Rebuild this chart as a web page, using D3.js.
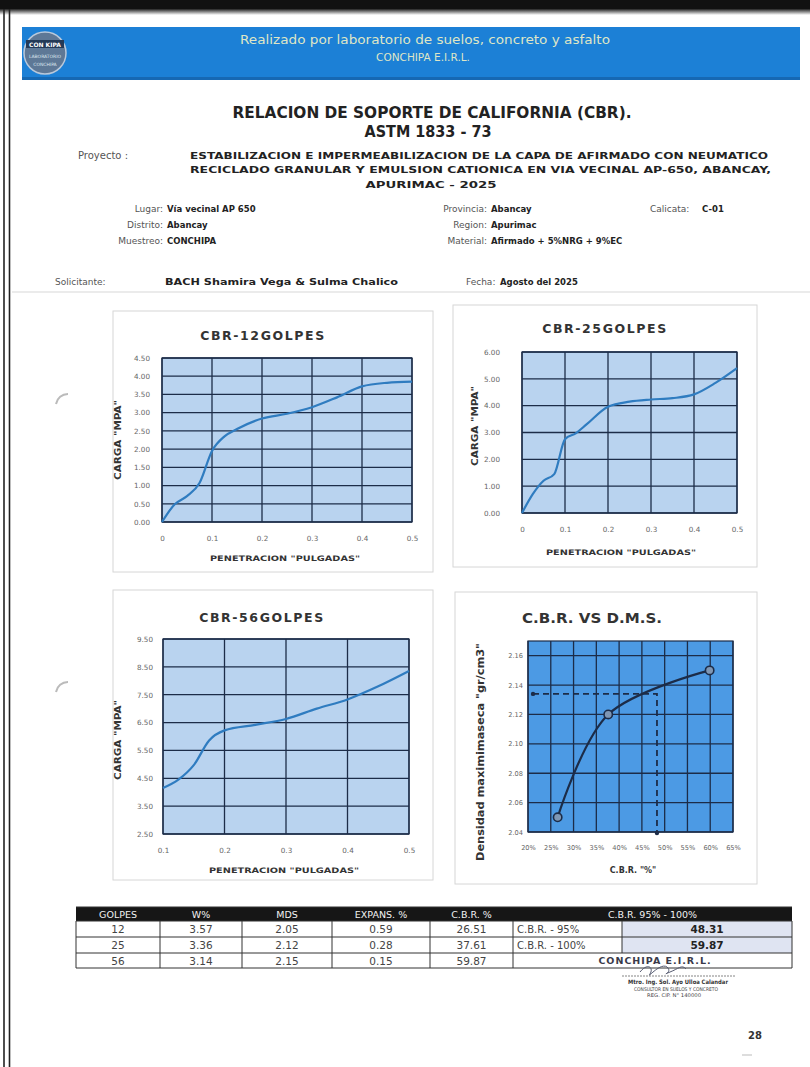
<!DOCTYPE html>
<html><head><meta charset="utf-8">
<script src="https://cdn.jsdelivr.net/npm/d3@7"></script>
<style>
html,body{margin:0;padding:0;background:#fff;}
svg{display:block;}
text{font-family:"DejaVu Sans",sans-serif;}
</style></head><body>
<svg id="page" width="810" height="1067"></svg>
<script>
// ---------------- DATA ----------------
const penetration = [0, 0.025, 0.05, 0.075, 0.1, 0.125, 0.15, 0.2, 0.25, 0.3, 0.35, 0.4, 0.45, 0.5];
const carga12 = [0, 0.48, 0.71, 1.07, 1.95, 2.35, 2.55, 2.84, 2.97, 3.15, 3.42, 3.72, 3.82, 3.85];
const carga25 = [0, 0.70, 1.20, 1.45, 2.75, 2.97, 3.30, 3.96, 4.15, 4.23, 4.28, 4.42, 4.85, 5.40];
const penetration56 = [0.1, 0.125, 0.15, 0.175, 0.2, 0.25, 0.3, 0.35, 0.4, 0.45, 0.5];
const carga56 = [4.15, 4.45, 4.97, 5.86, 6.22, 6.42, 6.63, 7.00, 7.33, 7.80, 8.35];

const ticksX = [0, 0.1, 0.2, 0.3, 0.4, 0.5];
const ticksX56 = [0.1, 0.2, 0.3, 0.4, 0.5];
const ticksY12 = [0, 0.5, 1, 1.5, 2, 2.5, 3, 3.5, 4, 4.5];
const ticksY25 = [0, 1, 2, 3, 4, 5, 6];
const ticksY56 = [2.5, 3.5, 4.5, 5.5, 6.5, 7.5, 8.5, 9.5];

const cbrPct = [26.51, 37.61, 59.87];
const mdsVals = [2.05, 2.12, 2.15];
const cbrAt95 = 48.31;
const mdsLevel95 = 2.134;
const ticksCbr = [0.20, 0.25, 0.30, 0.35, 0.40, 0.45, 0.50, 0.55, 0.60, 0.65];
const ticksMds = [2.04, 2.06, 2.08, 2.10, 2.12, 2.14, 2.16];

const golpes = [12, 25, 56];
const humedad = [3.57, 3.36, 3.14];
const mdsTable = [2.05, 2.12, 2.15];
const expansion = [0.59, 0.28, 0.15];
const cbrTable = [26.51, 37.61, 59.87];
const tableHeaders = ["GOLPES", "W%", "MDS", "EXPANS. %", "C.B.R. %"];
const cbrSummaryLabels = ["C.B.R. - 95%", "C.B.R. - 100%"];
const cbrSummaryValues = [48.31, 59.87];

// ---------------- PAGE ----------------
const svg = d3.select("#page");
const NAVY = "#1c2c48";

// scan frame
const topGrad = svg.append("defs").append("linearGradient").attr("id","tg").attr("x1",0).attr("x2",0).attr("y1",0).attr("y2",1);
topGrad.append("stop").attr("offset","0").attr("stop-color","#111");
topGrad.append("stop").attr("offset","0.6").attr("stop-color","#222");
topGrad.append("stop").attr("offset","1").attr("stop-color","#fff");
svg.append("rect").attr("x",0).attr("y",0).attr("width",810).attr("height",15).attr("fill","url(#tg)");
svg.append("rect").attr("x",0).attr("y",0).attr("width",810).attr("height",9).attr("fill","#111");
[4, 9.5].forEach(xx => svg.append("line").attr("x1",xx).attr("x2",xx).attr("y1",9).attr("y2",1067).attr("stroke","#222").attr("stroke-width",1.6));

// header band
svg.append("rect").attr("x",22).attr("y",27).attr("width",778).attr("height",53).attr("fill","#1c80d6");
svg.append("rect").attr("x",22).attr("y",77).attr("width",778).attr("height",3).attr("fill","#1668b3");
svg.append("circle").attr("cx",45).attr("cy",53).attr("r",21).attr("fill","#5e7896").attr("stroke","#b9c8da").attr("stroke-width",1.5);
svg.append("rect").attr("x",26).attr("y",40).attr("width",38).attr("height",8).attr("fill","#243a57");
svg.append("text").attr("x",45).attr("y",46.5).attr("text-anchor","middle").attr("font-size",6).attr("font-weight","bold").attr("fill","#fff").text("CON KIPA");
svg.append("text").attr("x",45).attr("y",58).attr("text-anchor","middle").attr("font-size",4.5).attr("fill","#dde6ef").text("LABORATORIO");
svg.append("text").attr("x",45).attr("y",66).attr("text-anchor","middle").attr("font-size",4.5).attr("fill","#dde6ef").text("CONCHIPA");
svg.append("text").attr("x",425).attr("y",44).attr("text-anchor","middle").attr("font-size",12.5).attr("font-family","Open Sans, sans-serif").attr("fill","#dfe6c6").attr("textLength",370).attr("lengthAdjust","spacingAndGlyphs").text("Realizado por laboratorio de suelos, concreto y asfalto");
svg.append("text").attr("x",423).attr("y",61).attr("text-anchor","middle").attr("font-size",10.5).attr("font-family","Open Sans, sans-serif").attr("fill","#dfe6c6").text("CONCHIPA E.I.R.L.");

// titles
svg.append("text").attr("x",432).attr("y",118).attr("text-anchor","middle").attr("font-size",15).attr("font-weight","bold").attr("fill","#222").attr("textLength",399).attr("lengthAdjust","spacingAndGlyphs").text("RELACION DE SOPORTE DE CALIFORNIA (CBR).");
svg.append("text").attr("x",428).attr("y",137).attr("text-anchor","middle").attr("font-size",15).attr("font-weight","bold").attr("fill","#222").attr("textLength",127).attr("lengthAdjust","spacingAndGlyphs").text("ASTM 1833 - 73");
svg.append("text").attr("x",78).attr("y",159).attr("font-size",10).attr("fill","#555").text("Proyecto  :");
const projLines = [
  {t:"ESTABILIZACION E IMPERMEABILIZACION DE LA CAPA DE AFIRMADO CON NEUMATICO", x:190, y:159, w:578, a:"start"},
  {t:"RECICLADO GRANULAR Y EMULSION CATIONICA EN VIA VECINAL AP-650, ABANCAY,", x:190, y:173, w:581, a:"start"},
  {t:"APURIMAC - 2025", x:431, y:188, w:131, a:"middle"}
];
projLines.forEach(p => svg.append("text").attr("x",p.x).attr("y",p.y).attr("text-anchor",p.a).attr("font-size",9.5).attr("font-weight","bold").attr("fill","#222").attr("textLength",p.w).attr("lengthAdjust","spacingAndGlyphs").text(p.t));

// info block
const info = [
  {l:"Lugar:", v:"Vía vecinal AP 650", lx:163, y:212},
  {l:"Distrito:", v:"Abancay", lx:163, y:228},
  {l:"Muestreo:", v:"CONCHIPA", lx:163, y:244},
  {l:"Provincia:", v:"Abancay", lx:487, y:212},
  {l:"Region:", v:"Apurimac", lx:487, y:228},
  {l:"Material:", v:"Afirmado + 5%NRG + 9%EC", lx:487, y:244}
];
info.forEach(d => {
  svg.append("text").attr("x",d.lx).attr("y",d.y).attr("text-anchor","end").attr("font-size",9).attr("fill","#555").text(d.l);
  svg.append("text").attr("x",d.lx+4).attr("y",d.y).attr("font-size",8.5).attr("font-weight","bold").attr("fill","#222").text(d.v);
});
svg.append("text").attr("x",650).attr("y",212).attr("font-size",9).attr("fill","#555").text("Calicata:");
svg.append("text").attr("x",702).attr("y",212).attr("font-size",8.5).attr("font-weight","bold").attr("fill","#222").text("C-01");
svg.append("text").attr("x",55).attr("y",285).attr("font-size",9).attr("fill","#555").text("Solicitante:");
svg.append("text").attr("x",165).attr("y",285).attr("font-size",8.5).attr("font-weight","bold").attr("fill","#222").attr("textLength",233).attr("lengthAdjust","spacingAndGlyphs").text("BACH Shamira  Vega & Sulma Chalico");
svg.append("text").attr("x",466).attr("y",285).attr("font-size",9).attr("fill","#555").text("Fecha:");
svg.append("text").attr("x",500).attr("y",285).attr("font-size",8.5).attr("font-weight","bold").attr("fill","#222").text("Agosto del 2025");
svg.append("line").attr("x1",12).attr("x2",810).attr("y1",292).attr("y2",292).attr("stroke","#e4e4e4").attr("stroke-width",1.5);

// scan artifacts (hole marks)
[[62,402],[62,690]].forEach(([cx,cy]) => svg.append("path").attr("d",`M${cx+6},${cy-8} A12,12 0 0 0 ${cx-6},${cy+2}`).attr("fill","none").attr("stroke","#bbb").attr("stroke-width",2));

// ---------------- LINE CHARTS ----------------
function lineChart(cfg) {
  const g = svg.append("g");
  g.append("rect").attr("x",cfg.panel[0]).attr("y",cfg.panel[1]).attr("width",cfg.panel[2]).attr("height",cfg.panel[3]).attr("fill","#fff").attr("stroke","#d6d6d6");
  const x = d3.scaleLinear().domain(cfg.xDomain).range([cfg.px0, cfg.px1]);
  const y = d3.scaleLinear().domain(cfg.yDomain).range([cfg.py1, cfg.py0]);
  g.append("rect").attr("x",cfg.px0).attr("y",cfg.py0).attr("width",cfg.px1-cfg.px0).attr("height",cfg.py1-cfg.py0).attr("fill",cfg.bg);
  g.selectAll(".hg").data(cfg.yTicks).join("line").attr("x1",cfg.px0).attr("x2",cfg.px1).attr("y1",d=>y(d)).attr("y2",d=>y(d)).attr("stroke",NAVY).attr("stroke-width",1.3);
  g.selectAll(".vg").data(cfg.xGrid).join("line").attr("y1",cfg.py0).attr("y2",cfg.py1).attr("x1",d=>x(d)).attr("x2",d=>x(d)).attr("stroke",NAVY).attr("stroke-width",1.3);
  g.append("rect").attr("x",cfg.px0).attr("y",cfg.py0).attr("width",cfg.px1-cfg.px0).attr("height",cfg.py1-cfg.py0).attr("fill","none").attr("stroke",NAVY).attr("stroke-width",1.2);
  const ya = g.append("g").attr("transform",`translate(${cfg.px0},0)`).call(d3.axisLeft(y).tickValues(cfg.yTicks).tickFormat(cfg.yFmt).tickSize(0).tickPadding(cfg.yPad));
  ya.select(".domain").remove();
  ya.selectAll("text").attr("font-size",7.2).attr("fill","#666").attr("font-family","DejaVu Sans, sans-serif");
  const xa = g.append("g").attr("transform",`translate(0,${cfg.py1})`).call(d3.axisBottom(x).tickValues(cfg.xTicks).tickFormat(cfg.xFmt).tickSize(0).tickPadding(cfg.xPad));
  xa.select(".domain").remove();
  xa.selectAll("text").attr("font-size",7.2).attr("fill","#666").attr("font-family","DejaVu Sans, sans-serif");
  return {g, x, y};
}

function curveChart(cfg, xs, ys) {
  const c = lineChart(cfg);
  c.g.append("path").datum(d3.zip(xs, ys)).attr("fill","none").attr("stroke","#2f7cc0").attr("stroke-width",2.2)
    .attr("d", d3.line().x(d=>c.x(d[0])).y(d=>c.y(d[1])).curve(d3.curveMonotoneX));
  c.g.append("text").attr("x",cfg.tx).attr("y",cfg.ty).attr("text-anchor","middle").attr("font-size",12.5).attr("font-weight","bold").attr("fill","#333").attr("letter-spacing",1.6).text(cfg.title);
  c.g.append("text").attr("x",cfg.xtx).attr("y",cfg.xty).attr("text-anchor","middle").attr("font-size",7.5).attr("font-weight","bold").attr("fill","#333").attr("textLength",150).attr("lengthAdjust","spacingAndGlyphs").text('PENETRACION "PULGADAS"');
  c.g.append("text").attr("transform",`translate(${cfg.ytx},${cfg.yty}) rotate(-90)`).attr("text-anchor","middle").attr("font-size",8.5).attr("font-weight","bold").attr("fill","#333").attr("textLength",80).attr("lengthAdjust","spacingAndGlyphs").text('CARGA "MPA"');
  return c;
}

const fmt2 = d3.format(".2f");
const fmtX = d => d === 0 ? "0" : String(d);

curveChart({panel:[113,311,320,261], xDomain:[0,0.5], yDomain:[0,4.5], px0:162, px1:412, py0:358, py1:522,
  bg:"#b9d3ef", yTicks:ticksY12, xTicks:ticksX, xGrid:ticksX, yFmt:fmt2, xFmt:fmtX, yPad:12, xPad:14,
  title:"CBR-12GOLPES", tx:263, ty:340, xtx:285, xty:561, ytx:121, yty:440}, penetration, carga12);

curveChart({panel:[453,305,304,262], xDomain:[0,0.5], yDomain:[0,6], px0:522, px1:737, py0:352, py1:513,
  bg:"#b9d3ef", yTicks:ticksY25, xTicks:ticksX, xGrid:ticksX, yFmt:fmt2, xFmt:fmtX, yPad:22, xPad:14,
  title:"CBR-25GOLPES", tx:605, ty:333, xtx:621, xty:555, ytx:478, yty:426}, penetration, carga25);

curveChart({panel:[113,590,320,290], xDomain:[0.1,0.5], yDomain:[2.5,9.5], px0:163, px1:409, py0:639, py1:834,
  bg:"#b9d3ef", yTicks:ticksY56, xTicks:ticksX56, xGrid:ticksX56, yFmt:fmt2, xFmt:fmtX, yPad:10, xPad:14,
  title:"CBR-56GOLPES", tx:262, ty:622, xtx:284, xty:873, ytx:121, yty:740}, penetration56, carga56);

// ---------------- CBR vs DMS ----------------
const c4 = lineChart({panel:[455,592,302,292], xDomain:[0.20,0.65], yDomain:[2.04,2.17], px0:528, px1:733, py0:641, py1:832,
  bg:"#4c9ae4", yTicks:ticksMds, xTicks:ticksCbr, xGrid:ticksCbr, yFmt:fmt2, xFmt:d3.format(".0%"), yPad:5, xPad:13});
c4.g.selectAll("g.tick text").attr("font-size",6.6);
const pts = d3.zip(cbrPct.map(v=>v/100), mdsVals);
c4.g.append("path").datum(pts).attr("fill","none").attr("stroke",NAVY).attr("stroke-width",2.2)
  .attr("d", d3.line().x(d=>c4.x(d[0])).y(d=>c4.y(d[1])).curve(d3.curveCatmullRom.alpha(0.5)));
const xr = c4.x(cbrAt95/100), yr = c4.y(mdsLevel95);
c4.g.append("path").attr("d",`M${c4.x(0.211)},${yr} H${xr} V${c4.y(2.04)}`).attr("fill","none").attr("stroke",NAVY).attr("stroke-width",1.8).attr("stroke-dasharray","6,4");
c4.g.append("circle").attr("cx",c4.x(0.211)).attr("cy",yr).attr("r",2.2).attr("fill",NAVY);
c4.g.append("circle").attr("cx",xr).attr("cy",c4.y(2.04)+1).attr("r",2.2).attr("fill",NAVY);
c4.g.selectAll(".pt").data(pts).join("circle").attr("cx",d=>c4.x(d[0])).attr("cy",d=>c4.y(d[1])).attr("r",4.2)
  .attr("fill","#7f97b4").attr("stroke",NAVY).attr("stroke-width",1.6);
c4.g.append("text").attr("x",592).attr("y",623).attr("text-anchor","middle").attr("font-size",14).attr("font-weight","bold").attr("fill","#333").attr("textLength",140).attr("lengthAdjust","spacingAndGlyphs").text("C.B.R.  VS D.M.S.");
c4.g.append("text").attr("x",633).attr("y",873).attr("text-anchor","middle").attr("font-size",8).attr("font-weight","bold").attr("fill","#333").text('C.B.R. "%"');
c4.g.append("text").attr("transform","translate(484,752) rotate(-90)").attr("text-anchor","middle").attr("font-size",10).attr("font-weight","bold").attr("fill","#333").attr("textLength",218).attr("lengthAdjust","spacingAndGlyphs").text('Densidad maximimaseca "gr/cm3"');

// ---------------- TABLE ----------------
const colX = [76, 160, 242, 332, 430, 513, 622, 792];
const rowY = [907, 921, 937, 953, 968];
const tf = "DejaVu Sans Condensed, DejaVu Sans, sans-serif";
const tg = svg.append("g");
tg.append("rect").attr("x",colX[0]).attr("y",rowY[0]).attr("width",colX[7]-colX[0]).attr("height",rowY[1]-rowY[0]).attr("fill","#161616");
const headerCenters = tableHeaders.map((h,i)=>({t:h, x:(colX[i]+colX[i+1])/2}));
headerCenters.push({t:"C.B.R. 95% - 100%", x:(colX[5]+colX[7])/2});
tg.selectAll(".hd").data(headerCenters).join("text").attr("x",d=>d.x).attr("y",rowY[0]+11).attr("text-anchor","middle").attr("font-size",9.5).attr("font-family",tf).attr("fill","#f2f2f2").text(d=>d.t);
// shaded value cells
[0,1].forEach(r => tg.append("rect").attr("x",colX[6]).attr("y",rowY[r+1]).attr("width",colX[7]-colX[6]).attr("height",rowY[r+2]-rowY[r+1]).attr("fill","#dfe4f2"));
// body values
const cols = [golpes.map(String), humedad.map(fmt2), mdsTable.map(fmt2), expansion.map(fmt2), cbrTable.map(fmt2)];
cols.forEach((col,ci) => {
  tg.selectAll(".c"+ci).data(col).join("text").attr("x",(colX[ci]+colX[ci+1])/2).attr("y",(d,ri)=>rowY[ri+1]+12)
    .attr("text-anchor","middle").attr("font-size",10.5).attr("font-family",tf).attr("fill","#444").text(d=>d);
});
tg.selectAll(".sl").data(cbrSummaryLabels).join("text").attr("x",colX[5]+4).attr("y",(d,ri)=>rowY[ri+1]+12).attr("font-size",10).attr("font-family",tf).attr("fill","#444").text(d=>d);
tg.selectAll(".sv").data(cbrSummaryValues).join("text").attr("x",(colX[6]+colX[7])/2).attr("y",(d,ri)=>rowY[ri+1]+12).attr("text-anchor","middle").attr("font-size",10.5).attr("font-weight","bold").attr("font-family",tf).attr("fill","#222").text(d=>fmt2(d));
// grid lines
const hLines = [[colX[0],colX[7],rowY[1]],[colX[0],colX[7],rowY[2]],[colX[0],colX[7],rowY[3]],[colX[0],colX[7],rowY[4]],[colX[0],colX[7],rowY[0]]];
hLines.forEach(([a,b,yy]) => tg.append("line").attr("x1",a).attr("x2",b).attr("y1",yy).attr("y2",yy).attr("stroke","#333").attr("stroke-width",1));
colX.forEach((xx,i) => {
  const yEnd = (i===6) ? rowY[3] : rowY[4];
  tg.append("line").attr("x1",xx).attr("x2",xx).attr("y1",rowY[1]).attr("y2",yEnd).attr("stroke","#333").attr("stroke-width",1);
});
// stamp
tg.append("text").attr("x",655).attr("y",rowY[3]+11).attr("text-anchor","middle").attr("font-size",9.5).attr("font-weight","bold").attr("fill","#3a3a4a").attr("letter-spacing",1).text("CONCHIPA E.I.R.L.");
tg.append("path").attr("d","M640,972 c8,-10 14,-4 10,2 c-4,6 12,-14 18,-6 c4,5 -8,8 2,4 c8,-3 12,-8 16,-3").attr("fill","none").attr("stroke","#555a70").attr("stroke-width",1);
tg.append("line").attr("x1",622).attr("x2",735).attr("y1",976).attr("y2",976).attr("stroke","#666").attr("stroke-width",0.8).attr("stroke-dasharray","2,1");
tg.append("text").attr("x",678).attr("y",984).attr("text-anchor","middle").attr("font-size",6).attr("font-weight","bold").attr("fill","#333").attr("textLength",100).attr("lengthAdjust","spacingAndGlyphs").text("Mtro. Ing. Sol. Ayo Ulloa Calandar");
tg.append("text").attr("x",676).attr("y",991).attr("text-anchor","middle").attr("font-size",5).attr("fill","#444").attr("textLength",84).attr("lengthAdjust","spacingAndGlyphs").text("CONSULTOR EN SUELOS Y CONCRETO");
tg.append("text").attr("x",674).attr("y",997).attr("text-anchor","middle").attr("font-size",5).attr("fill","#444").attr("textLength",54).attr("lengthAdjust","spacingAndGlyphs").text("REG. CIP. N° 140000");
svg.append("text").attr("x",755).attr("y",1039).attr("text-anchor","middle").attr("font-size",10).attr("font-weight","bold").attr("fill","#333").text("28");
svg.append("line").attr("x1",742).attr("x2",752).attr("y1",1055).attr("y2",1055).attr("stroke","#bbb");
</script>
</body></html>
